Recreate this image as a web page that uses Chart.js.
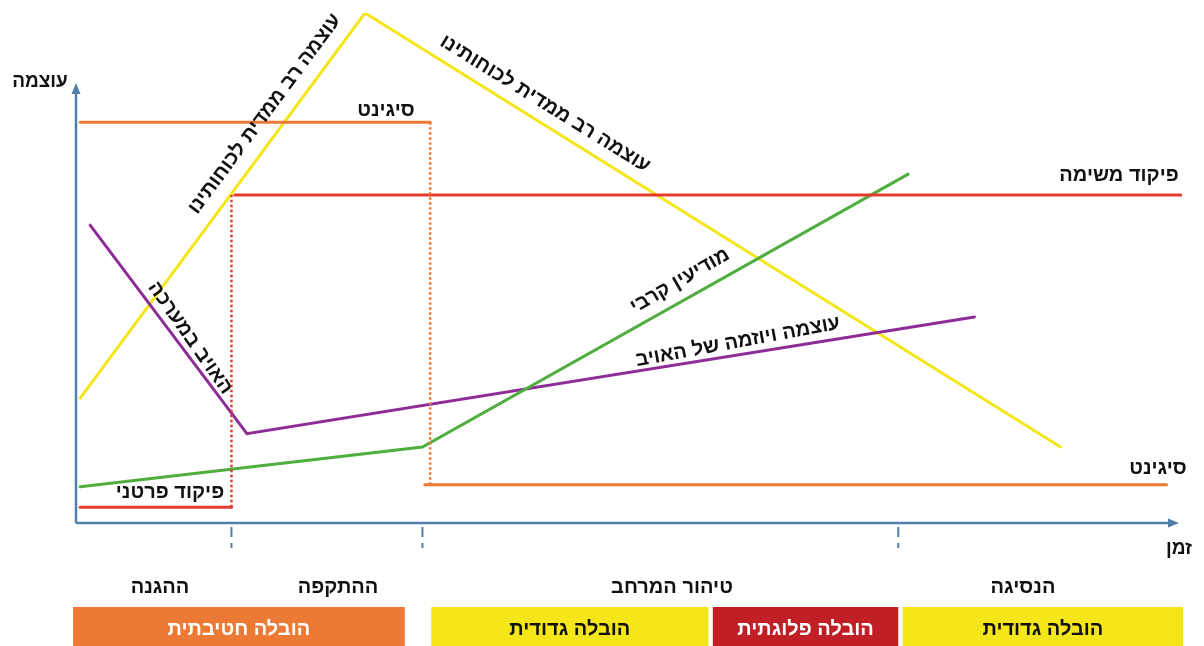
<!DOCTYPE html>
<html lang="he">
<head>
<meta charset="utf-8">
<script src="https://cdn.jsdelivr.net/npm/chart.js@4"></script>
<style>
html,body{margin:0;padding:0;background:#fff;}
#wrap{width:1204px;height:646px;position:relative;}
</style>
</head>
<body>
<div id="wrap"><canvas id="c" width="1204" height="646"></canvas></div>
<script>
// ---- data (time units 0-100, power units 0-100) ----
const multiDomainX = [0.2, 26.0, 89.0];
const multiDomainY = [24.5, 100, 14.9];

const sigintTopX = [0.2, 31.9];
const sigintTopY = [78.6, 78.6];
const sigintDropX = [31.9, 31.9];
const sigintDropY = [78.6, 7.5];
const sigintLowX = [31.4, 98.6];
const sigintLowY = [7.5, 7.5];

const detailCmdX = [0.2, 13.9];
const detailCmdY = [3.1, 3.1];
const cmdRiseX = [13.9, 13.9];
const cmdRiseY = [3.1, 64.3];
const missionCmdX = [14.2, 99.9];
const missionCmdY = [64.3, 64.3];

const enemyX = [1.1, 15.3, 81.2];
const enemyY = [58.4, 17.5, 40.4];

const intelX = [0.2, 31.2, 75.2];
const intelY = [7.1, 14.9, 68.4];

const phaseBounds = [13.9, 31.2, 74.3];
const phaseNames = ["ההגנה", "ההתקפה", "טיהור המרחב", "הנסיגה"];
const leadNames = ["הובלה חטיבתית", "הובלה גדודית", "הובלה פלוגתית", "הובלה גדודית"];
const leadStart = [-0.45, 32.0, 57.5, 74.7];
const leadEnd = [29.6, 57.1, 74.3, 100.1];

const pts = (xs, ys) => xs.map((x, i) => ({x, y: ys[i]}));

const YELLOW = '#f5e61a', ORANGE = '#ec7a35', RED = '#e53a2f', PURPLE = '#8e2c98', GREEN = '#4fae3f', AXIS = '#4f7fab';
const FONT = '"Liberation Sans", "DejaVu Sans", Arial, sans-serif';

function ds(data, color, dash) {
  return {data, borderColor: color, borderWidth: dash ? 2.5 : 3, borderDash: dash || [], pointRadius: 0, tension: 0, fill: false, borderCapStyle: dash ? 'butt' : 'round'};
}

const decor = {
  id: 'decor',
  beforeDatasetsDraw(chart) {
    const ctx = chart.ctx, xs = chart.scales.x, ys = chart.scales.y;
    const x0 = xs.getPixelForValue(0) - 2, y0 = ys.getPixelForValue(0);
    ctx.save();
    ctx.strokeStyle = AXIS; ctx.fillStyle = AXIS; ctx.lineWidth = 2.5;
    // y axis
    ctx.beginPath(); ctx.moveTo(x0, y0); ctx.lineTo(x0, 92); ctx.stroke();
    ctx.beginPath(); ctx.moveTo(x0, 83); ctx.lineTo(x0 - 4.5, 94); ctx.lineTo(x0 + 4.5, 94); ctx.closePath(); ctx.fill();
    // x axis
    ctx.beginPath(); ctx.moveTo(x0, y0); ctx.lineTo(1170, y0); ctx.stroke();
    ctx.beginPath(); ctx.moveTo(1179, y0); ctx.lineTo(1168, y0 - 4.5); ctx.lineTo(1168, y0 + 4.5); ctx.closePath(); ctx.fill();
    // phase ticks
    ctx.lineWidth = 2;
    phaseBounds.forEach(b => {
      const px = xs.getPixelForValue(b);
      ctx.setLineDash([10, 6]);
      ctx.beginPath(); ctx.moveTo(px, y0 + 4); ctx.lineTo(px, y0 + 25); ctx.stroke();
    });
    ctx.setLineDash([]);
    ctx.restore();
  },
  afterDatasetsDraw(chart) {
    const ctx = chart.ctx, xs = chart.scales.x;
    ctx.save();
    ctx.fillStyle = '#111';
    ctx.textBaseline = 'middle';
    const txt = (s, x, y, size, ang, align) => {
      ctx.save();
      ctx.translate(x, y);
      if (ang) ctx.rotate(ang * Math.PI / 180);
      ctx.font = 'bold ' + size + 'px ' + FONT;
      ctx.textAlign = align || 'center';
      ctx.fillText(s, 0, 0);
      ctx.restore();
    };
    txt('עוצמה', 40, 82, 19);
    txt('זמן', 1179, 549, 19);
    txt('סיגינט', 386, 110, 20);
    txt('פיקוד משימה', 1119, 175, 20);
    txt('סיגינט', 1158, 468, 20);
    txt('פיקוד פרטני', 170, 492, 20);
    txt('עוצמה רב ממדית לכוחותינו', 265, 114, 20, -53.5);
    txt('עוצמה רב ממדית לכוחותינו', 545, 104, 20, 31.8);
    txt('האויב במערכה', 190, 338, 20, 55);
    txt('מודיעין קרבי', 680, 281, 20, -30);
    txt('עוצמה ויוזמה של האויב', 738, 342, 20, -10.5);

    // phase names
    const phaseCenters = [160, 338, 672, 1023];
    phaseNames.forEach((n, i) => txt(n, phaseCenters[i], 587, 20));

    // leadership bands
    const bandColors = [ORANGE, YELLOW, '#c01f26', YELLOW];
    const textColors = ['#fff', '#111', '#fff', '#111'];
    leadNames.forEach((n, i) => {
      const a = xs.getPixelForValue(leadStart[i]), b = xs.getPixelForValue(leadEnd[i]);
      ctx.fillStyle = bandColors[i];
      ctx.fillRect(a, 607, b - a, 39);
      ctx.fillStyle = textColors[i];
      txt(n, (a + b) / 2, 629, 20);
    });
    ctx.restore();
  }
};

new Chart(document.getElementById('c'), {
  type: 'line',
  data: {
    datasets: [
      ds(pts(sigintTopX, sigintTopY), ORANGE),
      ds(pts(sigintDropX, sigintDropY), ORANGE, [2.5, 2.5]),
      ds(pts(sigintLowX, sigintLowY), ORANGE),
      ds(pts(detailCmdX, detailCmdY), RED),
      ds(pts(cmdRiseX, cmdRiseY), RED, [2.5, 2.5]),
      ds(pts(missionCmdX, missionCmdY), RED),
      ds(pts(intelX, intelY), GREEN),
      ds(pts(enemyX, enemyY), PURPLE),
      ds(pts(multiDomainX, multiDomainY), YELLOW)
    ]
  },
  options: {
    responsive: false,
    animation: false,
    events: [],
    layout: {padding: {left: 78, right: 22, top: 13, bottom: 123}},
    plugins: {legend: {display: false}, tooltip: {enabled: false}},
    scales: {
      x: {type: 'linear', min: 0, max: 100, display: false},
      y: {type: 'linear', min: 0, max: 100, display: false}
    }
  },
  plugins: [decor]
});
</script>
</body>
</html>
